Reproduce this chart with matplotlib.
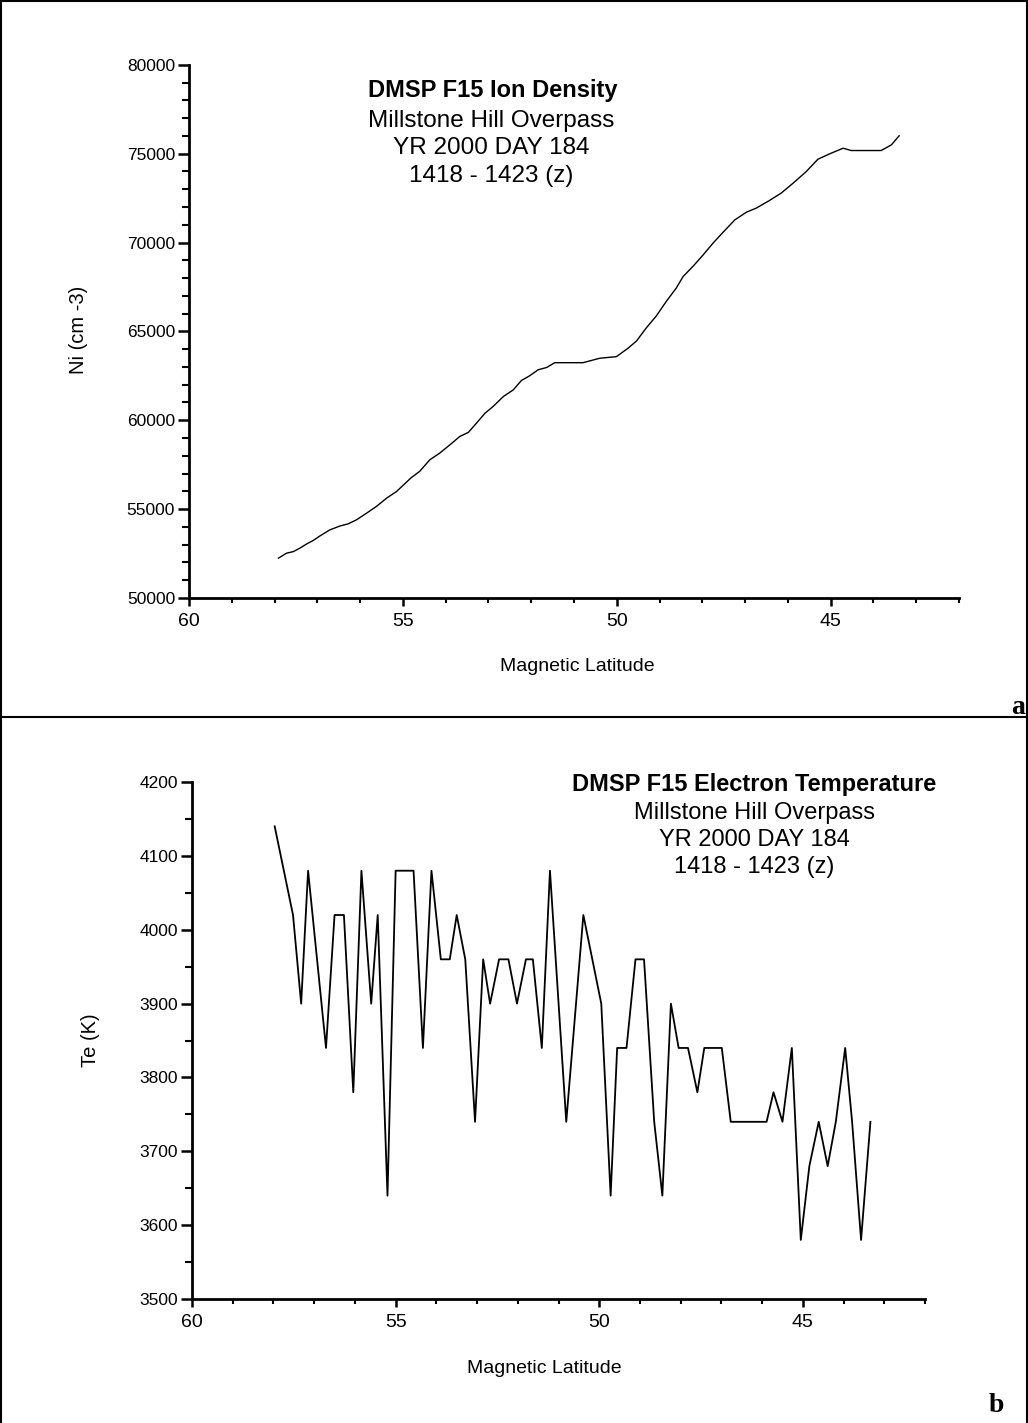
import matplotlib
matplotlib.use("Agg")
from matplotlib import pyplot as plt
from matplotlib.lines import Line2D
from matplotlib.ticker import MultipleLocator

plt.rcParams['font.family'] = ['Liberation Sans', 'DejaVu Sans']

# ion density along the pass
lat_ni = [57.91, 57.72, 57.56, 57.41, 57.25, 57.10, 56.94, 56.71, 56.47, 56.28,
          56.09, 55.85, 55.62, 55.38, 55.15, 54.96, 54.80, 54.61, 54.37, 54.14,
          53.90, 53.67, 53.47, 53.28, 53.08, 52.89, 52.65, 52.42, 52.23, 52.04,
          51.84, 51.64, 51.45, 50.79, 50.40, 50.01, 49.74, 49.54, 49.31, 49.08,
          48.84, 48.61, 48.45, 48.22, 47.98, 47.75, 47.52, 47.24, 46.97, 46.74,
          46.43, 46.16, 45.88, 45.57, 45.30, 44.99, 44.71, 44.52, 43.82, 43.58,
          43.40]
ni = [52240, 52520, 52610, 52800, 53040, 53230, 53490, 53830, 54050, 54170,
      54390, 54770, 55150, 55620, 55990, 56420, 56780, 57120, 57780, 58150,
      58620, 59090, 59320, 59840, 60400, 60780, 61340, 61710, 62240, 62500,
      62840, 62970, 63240, 63240, 63490, 63580, 64050, 64460, 65200, 65860,
      66700, 67440, 68090, 68660, 69310, 69970, 70570, 71280, 71710, 71940,
      72370, 72780, 73340, 74000, 74690, 75030, 75310, 75180, 75180, 75500,
      76010]

# electron temperature along the pass
lat_te = [57.97, 57.52, 57.32, 57.15, 56.71, 56.50, 56.27, 56.04, 55.84, 55.60,
          55.44, 55.20, 55.00, 54.78, 54.56, 54.33, 54.12, 53.89, 53.67, 53.50,
          53.29, 53.05, 52.85, 52.68, 52.46, 52.23, 52.02, 51.80, 51.63, 51.41,
          51.21, 50.81, 50.39, 49.95, 49.72, 49.56, 49.33, 49.11, 48.90, 48.65,
          48.45, 48.24, 48.05, 47.82, 47.59, 47.42, 46.99, 46.77, 45.89, 45.72,
          45.50, 45.27, 45.05, 44.84, 44.61, 44.39, 44.19, 43.96, 43.79, 43.57,
          43.34]
te = [4140, 4020, 3900, 4080, 3840, 4020, 4020, 3780, 4080, 3900,
      4020, 3640, 4080, 4080, 4080, 3840, 4080, 3960, 3960, 4020,
      3960, 3740, 3960, 3900, 3960, 3960, 3900, 3960, 3960, 3840,
      4080, 3740, 4020, 3900, 3640, 3840, 3840, 3960, 3960, 3740,
      3640, 3900, 3840, 3840, 3780, 3840, 3840, 3740, 3740, 3780,
      3740, 3840, 3580, 3680, 3740, 3680, 3740, 3840, 3740, 3580,
      3740]

title_lines = ["Millstone Hill Overpass", "YR 2000 DAY 184", "1418 - 1423 (z)"]

fig = plt.figure(figsize=(10.28, 14.23), dpi=100)


def style_axes(ax, ymajor, yminor):
    for side in ['top', 'right']:
        ax.spines[side].set_visible(False)
    for side in ['left', 'bottom']:
        ax.spines[side].set_linewidth(2.0)
    ax.set_xlim(60, 42)
    ax.xaxis.set_major_locator(MultipleLocator(5))
    ax.xaxis.set_minor_locator(MultipleLocator(1))
    ax.yaxis.set_major_locator(MultipleLocator(ymajor))
    ax.yaxis.set_minor_locator(MultipleLocator(yminor))
    ax.tick_params(axis='x', which='major', direction='out', length=6, width=1.8,
                   pad=5, labelsize=14)
    ax.tick_params(axis='x', which='minor', direction='out', length=3.5, width=1.5)
    ax.tick_params(axis='y', which='major', direction='out', length=8, width=1.8,
                   pad=2, labelsize=12.5)
    ax.tick_params(axis='y', which='minor', direction='out', length=5, width=1.5)


# panel a
ax1 = fig.add_axes([0.1839, 0.5798, 0.749, 0.3746])
ax1.plot(lat_ni, ni, color='black', lw=1.0)
style_axes(ax1, 5000, 1000)
ax1.set_ylim(50000, 80000)
ax1.set_ylabel("Ni (cm -3)", fontsize=14.5)
ax1.yaxis.set_label_coords(-0.131, 0.503)
ax1.set_xlabel("Magnetic Latitude", fontsize=14)
ax1.xaxis.set_label_coords(0.504, -0.1126)
fig.text(493 / 1028, 1 - 91 / 1423, "DMSP F15 Ion Density",
         ha='center', va='center', fontsize=17, fontweight='bold')
for i, s in enumerate(title_lines):
    fig.text(491 / 1028, 1 - (121 + 27.5 * i) / 1423, s, ha='center', va='center',
             fontsize=17.5)

# panel b
ax2 = fig.add_axes([0.1868, 0.0871, 0.7130, 0.3633])
ax2.plot(lat_te, te, color='black', lw=1.3)
style_axes(ax2, 100, 50)
ax2.set_ylim(3500, 4200)
ax2.set_ylabel("Te (K)", fontsize=14.5)
ax2.yaxis.set_label_coords(-0.1255, 0.50)
ax2.set_xlabel("Magnetic Latitude", fontsize=14)
ax2.xaxis.set_label_coords(0.48, -0.118)
fig.text(754 / 1028, 1 - 785 / 1423, "DMSP F15 Electron Temperature",
         ha='center', va='center', fontsize=17, fontweight='bold')
for i, s in enumerate(title_lines):
    fig.text(754 / 1028, 1 - (812.5 + 27.5 * i) / 1423, s, ha='center', va='center',
             fontsize=17)

# frame and panel letters
for xs, ys in [([0.001, 0.001], [0, 1]), ([0, 1], [0.999, 0.999]),
               ([0.999, 0.999], [0, 1]), ([0, 1], [1 - 717 / 1423, 1 - 717 / 1423])]:
    fig.add_artist(Line2D(xs, ys, color='black', lw=1.5, transform=fig.transFigure))
fig.text(1018 / 1028, 1 - 707 / 1423, "a", family='Liberation Serif', fontweight='bold',
         fontsize=20, ha='center', va='center')
fig.text(996 / 1028, 1 - 1405 / 1423, "b", family='Liberation Serif', fontweight='bold',
         fontsize=20, ha='center', va='center')

fig.savefig("out.png", dpi=100)
